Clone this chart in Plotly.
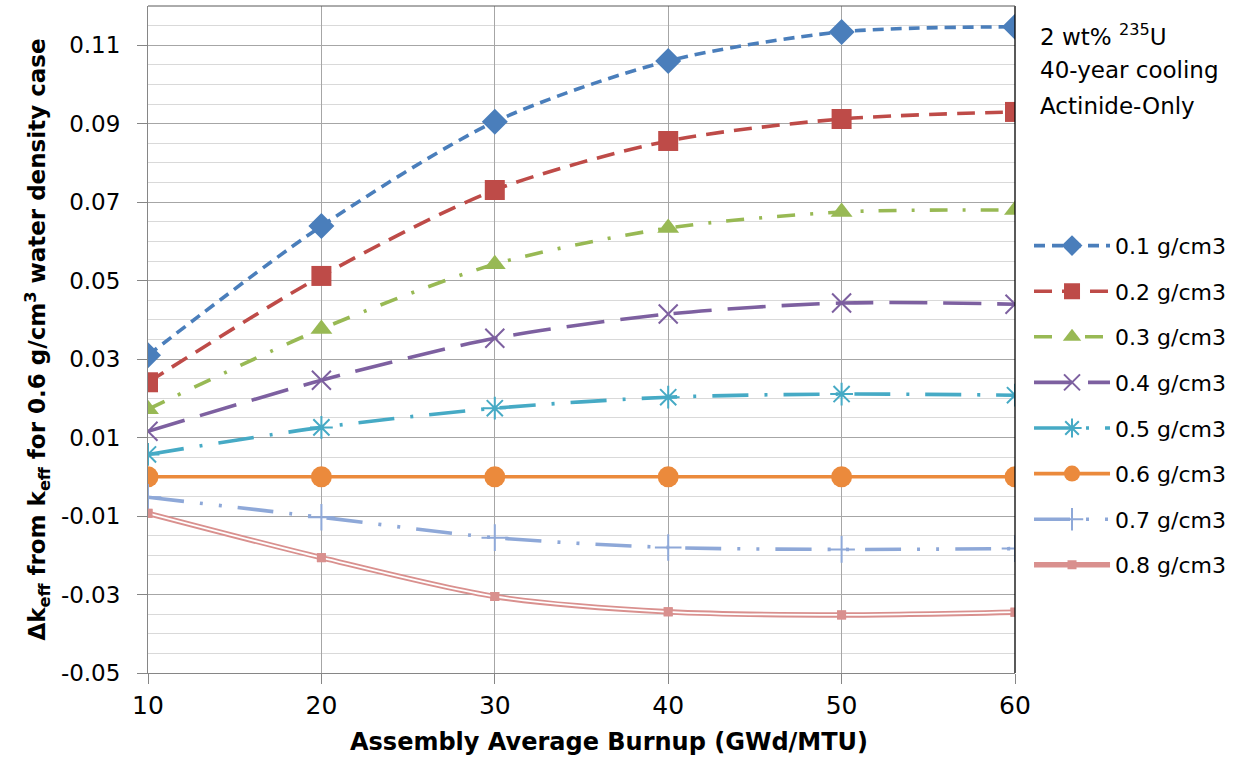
import plotly.graph_objects as go

burnup = [10, 20, 30, 40, 50, 60]
series_names = ["0.1 g/cm3", "0.2 g/cm3", "0.3 g/cm3", "0.4 g/cm3",
                "0.5 g/cm3", "0.6 g/cm3", "0.7 g/cm3", "0.8 g/cm3"]
d01 = [0.0310, 0.0639, 0.0905, 0.1060, 0.1134, 0.1147]
d02 = [0.0241, 0.0512, 0.0731, 0.0856, 0.0912, 0.0930]
d03 = [0.0172, 0.0377, 0.0542, 0.0634, 0.0675, 0.0680]
d04 = [0.0116, 0.0246, 0.0353, 0.0415, 0.0443, 0.0440]
d05 = [0.0057, 0.0126, 0.0175, 0.0203, 0.0211, 0.0208]
d06 = [0.0, 0.0, 0.0, 0.0, 0.0, 0.0]
d07 = [-0.0052, -0.0103, -0.0155, -0.0180, -0.0185, -0.0183]
d08 = [-0.0093, -0.0206, -0.0305, -0.0344, -0.0352, -0.0345]

y_tickvals = [-0.05, -0.03, -0.01, 0.01, 0.03, 0.05, 0.07, 0.09, 0.11]
y_ticktext = ["-0.05", "-0.03", "-0.01", "0.01", "0.03", "0.05", "0.07", "0.09", "0.11"]
x_tickvals = [10, 20, 30, 40, 50, 60]

colors = ["#4A7EBB", "#BE4B48", "#98B954", "#7D60A0", "#46AAC5", "#EB8A3C", "#8EA8D8", "#D9908E"]
dashes = ["11px,7px", "18px,10px", "18px,15px,3px,15px", "38px,16px",
          "36px,16px,3px,16px", "solid", "36px,16px,3px,16px,3px,16px", "solid"]
symbols = ["diamond", "square", "triangle-up", "x-thin-open", "asterisk-open",
           "circle", "cross-thin-open", "square"]
sizes = [20, 20, 19, 19, 19, 21, 19, 9]
data = [d01, d02, d03, d04, d05, d06, d07, d08]

FONT = "DejaVu Sans"

fig = go.Figure()
for i in range(8):
    mk = dict(symbol=symbols[i], size=sizes[i], color=colors[i])
    if "open" in symbols[i]:
        mk["line"] = dict(color=colors[i], width=2)
    if i < 7:
        fig.add_trace(go.Scatter(
            x=burnup, y=data[i], name=series_names[i], mode="lines+markers",
            line=dict(color=colors[i], width=3.6, dash=dashes[i], shape="spline", smoothing=0.8),
            marker=mk, legendgroup=f"g{i}"))
    else:
        fig.add_trace(go.Scatter(
            x=burnup, y=data[i], name=series_names[i], mode="lines+markers",
            line=dict(color=colors[i], width=5.5, shape="spline", smoothing=0.8),
            marker=mk, legendgroup=f"g{i}"))
        fig.add_trace(go.Scatter(
            x=burnup, y=data[i], mode="lines", showlegend=False, hoverinfo="skip",
            line=dict(color="white", width=1.8, shape="spline", smoothing=0.8),
            legendgroup=f"g{i}"))
        fig.add_trace(go.Scatter(
            x=burnup, y=data[i], mode="markers", showlegend=False,
            marker=dict(symbol="square", size=9, color=colors[i]),
            legendgroup=f"g{i}"))

fig.update_layout(
    width=1236, height=763,
    paper_bgcolor="white", plot_bgcolor="white",
    margin=dict(l=148, r=220, t=6, b=90),
    font=dict(family=FONT, color="black"),
    showlegend=True,
    legend=dict(x=1.015, y=0.672, xanchor="left", yanchor="top",
                font=dict(size=22, family=FONT), itemwidth=76,
                traceorder="grouped", tracegroupgap=14,
                bgcolor="rgba(0,0,0,0)"),
    xaxis=dict(range=[10, 60], tickvals=x_tickvals, showgrid=True,
               gridcolor="#A6A6A6", gridwidth=1, showline=True, linecolor="#868686",
               ticks="outside", ticklen=10, tickcolor="#868686",
               tickfont=dict(size=25, family=FONT), zeroline=False),
    yaxis=dict(range=[-0.05, 0.12], tickvals=y_tickvals, ticktext=y_ticktext,
               showgrid=True, gridcolor="#A6A6A6", gridwidth=1,
               minor=dict(tick0=-0.05, dtick=0.005, showgrid=True, gridcolor="#D9D9D9", gridwidth=1),
               showline=True, linecolor="#868686", ticks="outside", ticklen=10,
               tickcolor="#868686", zeroline=False, ticklabelstandoff=12,
               tickfont=dict(size=23, family=FONT),
               title=dict(text="<b>Δk<sub>eff</sub> from k<sub>eff</sub> for 0.6 g/cm<sup>3</sup> water density case</b>",
                          font=dict(size=23, family=FONT), standoff=8)),
    shapes=[
        dict(type="line", xref="paper", yref="paper", x0=1, x1=1, y0=0, y1=1,
             line=dict(color="black", width=1.3)),
        dict(type="line", xref="paper", yref="paper", x0=0, x1=1, y0=1, y1=1,
             line=dict(color="#595959", width=1)),
    ],
    annotations=[
        dict(text="<b>Assembly Average Burnup (GWd/MTU)</b>", xref="paper", yref="paper",
             x=(610 - 148) / 868, y=(673 - 742) / 667, xanchor="center", yanchor="middle",
             showarrow=False, font=dict(size=24, family=FONT)),
        dict(text="2 wt% <sup>235</sup>U", xref="paper", yref="paper", x=1.027, y=(673 - 35) / 667,
             xanchor="left", yanchor="middle", showarrow=False, font=dict(size=23, family=FONT)),
        dict(text="40-year cooling", xref="paper", yref="paper", x=1.027, y=(673 - 70) / 667,
             xanchor="left", yanchor="middle", showarrow=False, font=dict(size=23, family=FONT)),
        dict(text="Actinide-Only", xref="paper", yref="paper", x=1.027, y=(673 - 106) / 667,
             xanchor="left", yanchor="middle", showarrow=False, font=dict(size=23, family=FONT)),
    ],
)

fig.write_html("out.html", config={"displayModeBar": False},
               post_script="document.body.style.margin='0px';")
